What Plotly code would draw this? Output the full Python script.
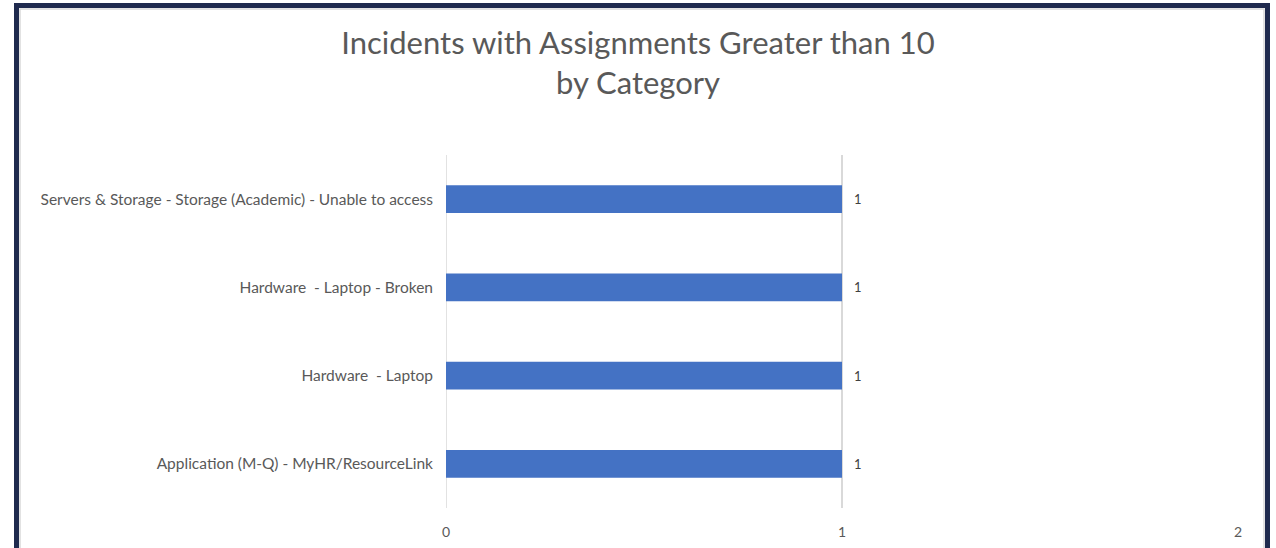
import plotly.graph_objects as go

categories = [
    "Application (M-Q) - MyHR/ResourceLink",
    "Hardware  - Laptop",
    "Hardware  - Laptop - Broken",
    "Servers & Storage - Storage (Academic) - Unable to access",
]
counts = [1, 1, 1, 1]
x_ticks = [0, 1, 2]

W, H = 1276, 548
L, R, T, B = 446, 38, 155, 40
pw, ph = W - L - R, H - T - B

def px2x(px):
    return (px - L) / pw

def py2y(py):
    return (H - B - py) / ph

fig = go.Figure(go.Bar(
    x=counts, y=categories, orientation="h",
    marker=dict(color="#4472C4", line=dict(width=0)),
    width=0.317,
    hoverinfo="skip",
))

annotations = [
    dict(x=c, y=cat, xref="x", yref="y", text=str(c), showarrow=False,
         xanchor="left", yanchor="middle", xshift=10,
         font=dict(family="Lato", size=13, color="#404040"))
    for c, cat in zip(counts, categories)
]

fig.update_layout(
    width=W, height=H,
    margin=dict(l=L, r=R, t=T, b=B, autoexpand=False),
    paper_bgcolor="white", plot_bgcolor="white",
    showlegend=False,
    title=dict(
        text="Incidents with Assignments Greater than 10<br>by Category",
        x=0.5, xanchor="center", xref="container",
        y=1 - 54 / H, yanchor="middle", yref="container",
        font=dict(family="Lato", size=31, color="#595959"),
    ),
    xaxis=dict(
        range=[0, 2], tickvals=x_ticks, showgrid=True, gridcolor="#D9D9D9",
        gridwidth=1.5, zeroline=False, showline=False, automargin=False,
        tickfont=dict(family="Lato", size=14, color="#595959"),
        ticks="", ticklabelstandoff=14,
    ),
    yaxis=dict(
        categoryorder="array", categoryarray=categories,
        showgrid=False, showline=False, ticks="", automargin=False,
        tickfont=dict(family="Lato", size=15.5, color="#595959"),
        ticklabelstandoff=12,
    ),
    annotations=annotations,
    shapes=[
        dict(type="line", xref="x", yref="paper", x0=0, x1=0, y0=0, y1=1,
             line=dict(color="#D9D9D9", width=1.5), layer="below"),
        dict(type="rect", xref="paper", yref="paper",
             x0=px2x(16.5), x1=px2x(1267.5), y0=py2y(600), y1=py2y(5.5),
             line=dict(color="#1F2A4E", width=5), fillcolor="rgba(0,0,0,0)"),
        dict(type="rect", xref="paper", yref="paper",
             x0=px2x(20), x1=px2x(1264), y0=py2y(600), y1=py2y(9),
             line=dict(color="#D9D9D9", width=1.5), fillcolor="rgba(0,0,0,0)"),
    ],
)

fig.write_html(
    "out.html",
    config={"displayModeBar": False},
    post_script="document.body.style.margin='0';document.body.style.overflow='hidden';",
)
